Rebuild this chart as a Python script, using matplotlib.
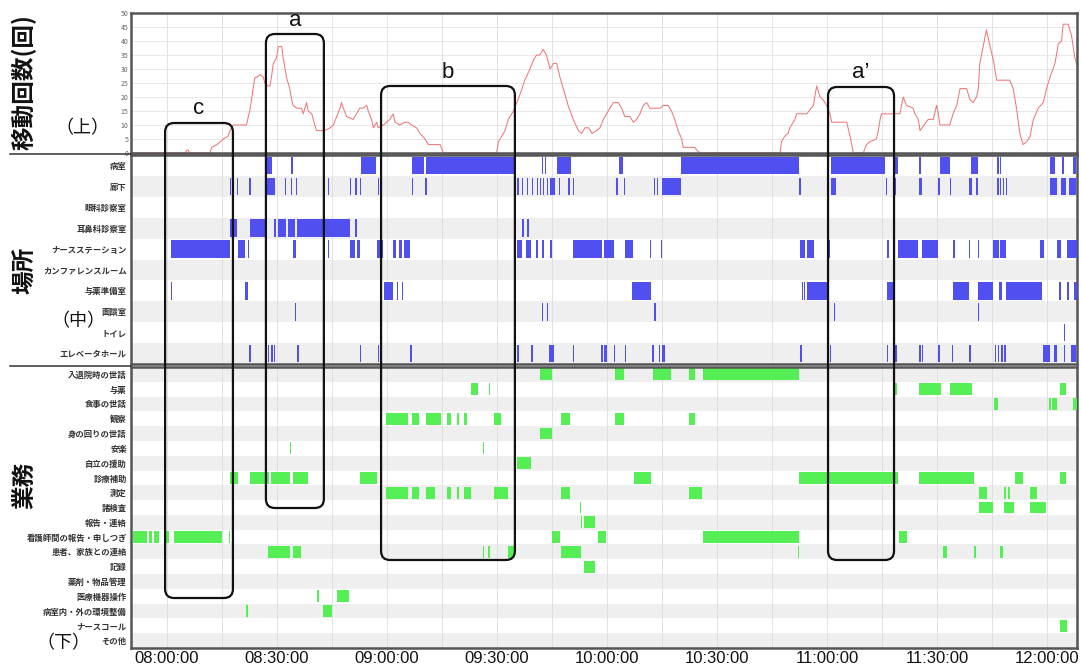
import matplotlib
matplotlib.use('Agg')
import matplotlib.pyplot as plt
from matplotlib.patches import FancyBboxPatch
from matplotlib.transforms import IdentityTransform
from matplotlib.lines import Line2D
from matplotlib.ticker import MultipleLocator, FuncFormatter

plt.rcParams['font.family'] = ['Noto Sans CJK JP', 'DejaVu Sans']

# time axis: minutes after 08:00:00
# movement count (top)
move_t = [-10, 5.0, 5.4, 5.8, 6.2, 11.7, 12.2, 13.6, 14.5, 15.4, 16.7, 17.2, 17.6, 18.1,
          21.7, 22.2, 22.6, 23.5, 24.0, 24.5, 25.4, 26.3, 26.7, 27.2, 28.1, 28.5, 29.0,
          29.9, 30.4, 31.3, 31.7, 32.6, 33.5, 34.0, 34.4, 35.4, 36.7, 37.2, 37.6, 38.1,
          38.5, 39.5, 39.9, 40.8, 43.1, 44.5, 45.4, 46.3, 47.2, 47.6, 48.1, 49.0, 50.8,
          51.7, 52.6, 53.5, 54.5, 54.9, 55.8, 56.3, 57.2, 57.6, 59.0, 59.9, 60.8, 61.7,
          62.2, 63.5, 64.9, 65.8, 66.7, 68.1, 69.0, 70.4, 71.3, 72.6, 74.5, 75.4, 89.9,
          90.4, 91.3, 92.2, 93.1, 94.5, 95.4, 96.3, 97.6, 99.0, 99.9, 100.8, 101.7, 102.6,
          103.5, 104.5, 105.4, 106.3, 107.2, 108.1, 109.4, 110.8, 112.2, 113.1, 114.0,
          115.0, 115.9, 117.2, 118.1, 119.0, 119.9, 120.8, 121.7, 123.1, 124.0, 124.9,
          126.3, 127.2, 128.1, 129.0, 129.9, 130.8, 131.3, 131.7, 134.5, 135.4, 136.7,
          137.6, 138.5, 139.4, 140.4, 140.8, 144.0, 144.5, 145.4, 167.2, 167.6, 168.5,
          169.4, 169.9, 170.8, 171.3, 171.7, 174.5, 176.3, 177.2, 178.1, 179.0, 179.9,
          180.8, 181.3, 183.5, 185.4, 186.3, 187.2, 189.9, 190.8, 191.7, 193.5, 194.0,
          194.5, 194.9, 199.9, 200.8, 201.7, 203.5, 204.0, 204.9, 205.4, 207.6, 209.0,
          209.9, 210.4, 210.8, 213.5, 214.4, 215.4, 216.3, 218.1, 219.0, 219.9, 220.8,
          221.3, 221.7, 222.6, 223.5, 224.5, 225.4, 226.3, 229.9, 230.8, 231.7, 232.6,
          233.5, 234.5, 235.4, 236.3, 237.6, 239.0, 239.9, 240.8, 242.2, 243.1, 244.0,
          244.4, 245.8, 246.7, 247.6, 248.5]
move_n = [0, 0, 1, 1, 0, 0, 2, 3, 4, 5, 6, 8, 9, 10,
          10, 13, 15, 23, 27, 27, 28, 27, 25, 24, 24, 27, 32,
          34, 38, 38, 34, 27, 23, 19, 17, 16, 16, 14, 16, 18,
          15, 14, 12, 8, 8, 9, 10, 13, 16, 18, 16, 13, 12,
          14, 16, 16, 17, 15, 12, 9, 11, 9, 10, 11, 12, 14,
          11, 10, 11, 11, 10, 9, 7, 5, 3, 3, 3, 0, 0,
          4, 6, 8, 12, 15, 18, 21, 26, 30, 33, 35, 35, 37,
          35, 30, 32, 32, 27, 23, 17, 12, 8, 7, 9,
          9, 7, 8, 9, 12, 14, 16, 18, 18, 16, 13,
          13, 11, 12, 14, 17, 18, 17, 16, 16, 17, 17,
          15, 12, 8, 5, 2, 2, 1, 0, 0, 4, 6,
          7, 9, 11, 12, 14, 14, 17, 24, 20, 19, 17,
          14, 11, 11, 11, 6, 0, 0, 3, 4, 5, 8,
          12, 14, 14, 20, 17, 16, 14, 12, 8, 12, 12,
          17, 14, 10, 10, 14, 17, 23, 23, 19, 18, 20,
          23, 32, 38, 44, 38, 33, 26, 26, 23, 16, 7,
          3, 4, 6, 12, 16, 18, 23, 27, 32, 39, 40,
          46, 46, 42, 34, 30]

# location (middle): [start, end] in minutes, start == end means a short visit
places = ['病室', '廊下', '眼科診察室', '耳鼻科診察室', 'ナースステーション',
          'カンファレンスルーム', '与薬準備室', '面談室', 'トイレ', 'エレベータホール']
byoshitsu = [[27.3, 28.6], [33.8, 34.3], [52.9, 57.0], [66.8, 70.1], [70.6, 94.9],
             [102.2, 102.2], [103.1, 103.1], [106.4, 110.2], [123.4, 124.3],
             [140.3, 172.3], [181.2, 181.2], [181.7, 195.8], [198.6, 199.5],
             [205.2, 205.6], [210.8, 213.6], [219.3, 221.2], [226.4, 226.4],
             [227.1, 227.1], [240.8, 242.3], [244.1, 244.6], [247.0, 247.9]]
roka = [[17.2, 17.2], [19.1, 19.1], [22.4, 22.4], [27.3, 29.5], [32.2, 32.2],
        [33.8, 33.8], [35.2, 35.2], [43.9, 43.9], [49.9, 49.9], [51.3, 51.3],
        [52.6, 52.6], [57.5, 57.5], [66.8, 66.8], [70.4, 70.4], [95.5, 95.5],
        [96.8, 96.8], [98.2, 98.2], [99.5, 99.5], [100.9, 100.9], [101.7, 101.7],
        [102.5, 102.5], [103.6, 103.6], [104.5, 105.8], [106.9, 106.9],
        [109.4, 109.4], [110.7, 110.7], [122.5, 122.5], [124.6, 124.6],
        [132.8, 132.8], [133.6, 133.6], [135.0, 140.2], [172.4, 172.4],
        [181.1, 182.5], [196.1, 196.1], [198.5, 198.5], [205.1, 205.9],
        [210.3, 210.3], [213.5, 213.5], [218.7, 219.5], [220.6, 221.2],
        [226.4, 226.4], [227.2, 227.2], [228.0, 228.0], [228.8, 228.8],
        [240.8, 242.7], [243.8, 245.2], [246.0, 247.9]]
ganka = []
jibika = [[17.2, 19.1], [22.6, 27.0], [29.2, 29.8], [30.2, 32.5], [33.0, 34.9],
          [35.5, 49.9], [51.3, 51.3], [96.9, 97.4], [98.3, 98.8]]
nurse_st = [[1.1, 17.2], [19.4, 21.3], [22.1, 22.1], [34.4, 35.2], [43.9, 43.9],
            [49.9, 51.3], [51.8, 52.7], [57.4, 58.9], [61.7, 62.4], [63.4, 64.0],
            [64.7, 66.2], [95.5, 96.9], [97.9, 99.3], [100.7, 100.7], [102.3, 102.3],
            [104.5, 104.5], [110.7, 118.6], [119.2, 121.9], [124.9, 127.1],
            [131.7, 131.7], [134.7, 134.7], [172.7, 174.1], [174.6, 176.5],
            [180.3, 180.7], [196.4, 196.4], [199.5, 204.7], [205.9, 210.4],
            [214.4, 214.4], [218.7, 218.7], [221.2, 221.2], [225.4, 226.8],
            [227.1, 228.7], [238.1, 239.1], [242.8, 243.7], [245.6, 248.5]]
conf_room = []
yoyaku_junbi = [[1.1, 1.1], [21.4, 22.2], [59.3, 61.7], [62.7, 62.7], [64.1, 64.1],
                [126.7, 132.0], [173.1, 173.1], [173.7, 174.1], [174.6, 180.3],
                [196.3, 198.2], [214.4, 218.8], [221.2, 225.4], [226.8, 227.7],
                [228.7, 238.6], [243.3, 243.3], [245.6, 245.6], [247.5, 248.5]]
mendan = [[34.9, 34.9], [102.2, 102.2], [103.6, 103.6], [132.8, 133.5],
          [181.9, 181.9], [221.2, 221.2]]
toilet = [[244.6, 244.6]]
elevator = [[22.4, 22.4], [27.5, 27.5], [28.4, 28.4], [29.2, 29.2], [35.5, 35.5],
            [52.6, 52.6], [57.5, 57.5], [66.3, 66.3], [95.5, 95.5], [99.3, 99.3],
            [104.1, 105.5], [110.7, 110.7], [118.5, 118.5], [119.1, 119.1],
            [119.6, 119.6], [121.9, 121.9], [124.8, 124.8], [132.3, 132.3],
            [134.2, 134.2], [135.0, 135.8], [172.7, 172.7], [180.7, 180.7],
            [196.3, 196.3], [198.6, 198.6], [205.2, 205.2], [205.9, 205.9],
            [210.4, 210.4], [214.1, 214.1], [218.8, 218.8], [225.7, 225.7],
            [226.6, 226.6], [227.5, 227.5], [228.4, 228.4], [239.0, 240.9],
            [241.9, 242.8], [244.6, 244.6], [246.5, 247.9]]
place_spans = [byoshitsu, roka, ganka, jibika, nurse_st, conf_room,
               yoyaku_junbi, mendan, toilet, elevator]

# tasks (bottom)
tasks = ['入退院時の世話', '与薬', '食事の世話', '観察', '身の回りの世話', '安楽',
         '自立の援助', '診療補助', '測定', '諸検査', '報告・連絡',
         '看護師間の報告・申しつぎ', '患者、家族との連絡', '記録', '薬剤・物品管理',
         '医療機器操作', '病室内・外の環境整備', 'ナースコール', 'その他']
nyutaiin = [[101.7, 105.0], [122.2, 124.6], [132.5, 137.5], [142.4, 144.0], [146.2, 172.4]]
yoyaku = [[82.9, 84.8], [87.8, 88.2], [198.3, 199.1], [205.1, 211.1], [213.5, 219.5],
          [243.5, 245.2]]
shokuji = [[225.5, 226.6], [240.5, 241.0], [241.4, 242.7], [247.1, 248.5]]
kansatsu = [[59.7, 65.7], [66.8, 68.7], [70.6, 74.7], [76.4, 77.5], [79.1, 79.6],
            [81.0, 81.8], [89.2, 91.1], [107.5, 109.9], [122.2, 124.6], [142.4, 144.0]]
minomawari = [[101.7, 105.0]]
anraku = [[33.5, 33.5], [86.2, 86.2]]
jiritsu = [[95.5, 99.3]]
shinryo_hojo = [[17.2, 19.4], [22.6, 27.8], [28.4, 33.5], [34.4, 38.5], [52.6, 57.3],
                [127.4, 132.0], [172.4, 199.4], [205.1, 220.1], [231.3, 233.5],
                [243.5, 245.2]]
sokutei = [[59.7, 65.7], [66.8, 68.7], [70.6, 73.1], [76.4, 77.5], [79.1, 79.6],
           [81.0, 82.9], [89.2, 93.0], [107.5, 109.9], [142.4, 145.9], [221.5, 223.6],
           [228.3, 228.8], [229.4, 229.9], [235.4, 237.3]]
shokensa = [[112.6, 112.6], [221.5, 225.3], [228.3, 231.0], [235.4, 239.7]]
hokoku = [[112.8, 112.8], [113.7, 116.7]]
moushitsugi = [[-9.3, -5.5], [-4.9, -4.1], [-3.5, -2.2], [-0.8, 0.5], [1.9, 15.0],
               [16.9, 16.9], [105.0, 107.2], [117.5, 119.7], [146.2, 172.4],
               [199.6, 201.8]]
kanja_kazoku = [[27.5, 33.5], [34.4, 36.5], [86.2, 86.6], [87.5, 88.1], [93.0, 94.6],
                [107.5, 112.9], [172.1, 172.1], [211.6, 212.7], [220.1, 220.6],
                [227.2, 228.0]]
kiroku = [[113.7, 116.7]]
yakuzai = []
iryo_kiki = [[40.9, 41.5], [46.4, 49.6]]
kankyo = [[21.5, 22.1], [42.5, 45.0]]
nurse_call = [[243.5, 245.5]]
sonota = []
task_spans = [nyutaiin, yoyaku, shokuji, kansatsu, minomawari, anraku, jiritsu,
              shinryo_hojo, sokutei, shokensa, hokoku, moushitsugi, kanja_kazoku,
              kiroku, yakuzai, iryo_kiki, kankyo, nurse_call, sonota]

# highlighted periods
box_labels = ['c', 'a', 'b', 'a\u2019']
box_t0 = [-0.5, 27.0, 58.4, 180.3]
box_t1 = [18.0, 42.8, 94.9, 198.3]

W, H = 1081, 664
fig = plt.figure(figsize=(W / 100, H / 100), dpi=100)


def rect(top, bottom, left=131, right=1077):
    return [left / W, 1 - bottom / H, (right - left) / W, (bottom - top) / H]


ax1 = fig.add_axes(rect(13, 153))
ax2 = fig.add_axes(rect(155, 364))
ax3 = fig.add_axes(rect(367, 648))

for ax in (ax1, ax2, ax3):
    ax.set_xlim(-9.8, 248.2)
    ax.xaxis.set_major_locator(MultipleLocator(30))
    ax.xaxis.set_minor_locator(MultipleLocator(15))
    ax.grid(which='both', axis='x', color='#dddddd', lw=0.6, zorder=0)
    ax.set_axisbelow(True)
    ax.tick_params(which='both', length=0)
    for s in ax.spines.values():
        s.set_color('#555555')
        s.set_linewidth(1.8)
    ax.spines['top'].set_zorder(20)

# top: movement count
ax1.plot(move_t, move_n, color='#f07878', lw=0.75)
ax1.set_ylim(0, 50)
ax1.set_yticks(range(0, 51, 5))
ax1.grid(axis='y', color='#e4e4e4', lw=0.6)
ax1.tick_params(axis='y', labelsize=5, labelcolor='#666666', pad=2)
ax1.tick_params(axis='x', labelbottom=False)

# middle: location
for i, spans in enumerate(place_spans):
    if i % 2 == 1:
        ax2.axhspan(i - 0.5, i + 0.5, color='#efefef', lw=0, zorder=0)
    ax2.broken_barh([(s, max(e - s, 0.4)) for s, e in spans], (i - 0.42, 0.84),
                    facecolors='#5050f0', zorder=3)
ax2.set_ylim(len(places) - 0.5, -0.5)
ax2.set_yticks(range(len(places)))
ax2.set_yticklabels(places, fontsize=6, fontweight='bold', color='#333333')
ax2.tick_params(axis='x', labelbottom=False)
ax2.tick_params(axis='y', pad=3)

# bottom: tasks
for i, spans in enumerate(task_spans):
    if i % 2 == 0:
        ax3.axhspan(i - 0.5, i + 0.5, color='#efefef', lw=0, zorder=0)
    ax3.broken_barh([(s, max(e - s, 0.4)) for s, e in spans], (i - 0.4, 0.8),
                    facecolors='#55ee55', zorder=3)
ax3.set_ylim(len(tasks) - 0.5, -0.5)
ax3.set_yticks(range(len(tasks)))
ax3.set_yticklabels(tasks, fontsize=6, fontweight='bold', color='#333333')
ax3.tick_params(axis='y', pad=3)
ax3.xaxis.set_major_formatter(FuncFormatter(
    lambda v, p: f'{8 + int(round(v)) // 60:02d}:{int(round(v)) % 60:02d}:00'))
for lab in ax3.get_xticklabels():
    lab.set_fontfamily(['Liberation Sans', 'DejaVu Sans'])
ax3.tick_params(axis='x', labelsize=12, labelcolor='#111111', pad=2)

# left side titles
big = dict(rotation=90, ha='center', va='center', fontsize=17, color='#111111',
           fontweight='bold')
fig.text(24 / W, 1 - 82 / H, '移動回数(回)', **big)
fig.text(25 / W, 1 - 270 / H, '場所', **big)
fig.text(25 / W, 1 - 485 / H, '業務', **big)
small = dict(ha='center', va='center', fontsize=13, color='#111111')
fig.text(82 / W, 1 - 128 / H, '（上）', **small)
fig.text(78 / W, 1 - 321 / H, '（中）', **small)
fig.text(63 / W, 1 - 643 / H, '（下）', **small)
for yy in (153.5, 366):
    fig.add_artist(Line2D([10 / W, 131 / W], [1 - yy / H, 1 - yy / H],
                          transform=fig.transFigure, color='#333333', lw=1.1))

# rounded boxes marking periods
box_top = [123, 34, 86, 87]
box_bot = [598, 508, 560, 560]
for lab, t0, t1, top, bot in zip(box_labels, box_t0, box_t1, box_top, box_bot):
    xa = ax1.transData.transform((t0, 0))[0]
    xb = ax1.transData.transform((t1, 0))[0]
    fig.add_artist(FancyBboxPatch((xa, H - bot), xb - xa, bot - top,
                                  boxstyle='round,pad=0,rounding_size=9',
                                  transform=IdentityTransform(), fill=False,
                                  ec='#111111', lw=1.6, zorder=30))
    fig.text((xa + xb) / 2 / W, 1 - (top - 14) / H, lab, ha='center', va='center',
             fontsize=16, family=['Liberation Sans', 'DejaVu Sans'], color='#111111')

fig.savefig('out.png', dpi=100)
